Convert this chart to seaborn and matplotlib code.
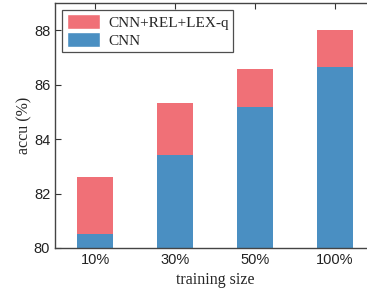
import matplotlib
matplotlib.use('Agg')
import matplotlib.pyplot as plt
import seaborn as sns
import pandas as pd
from matplotlib.patches import Patch

sizes = ['10%', '30%', '50%', '100%']
cnn = [80.52, 83.42, 85.16, 86.63]
cnn_rel_lex = [82.62, 85.31, 86.56, 88.01]

red = '#F07077'
blue = '#4A8FC2'

sns.set_style('ticks')
plt.rcParams['font.family'] = ['Liberation Sans', 'DejaVu Sans']

df = pd.DataFrame({'size': sizes, 'cnn': cnn, 'full': cnn_rel_lex})

fig = plt.figure(figsize=(3.67, 2.89), dpi=100)
ax = fig.add_axes([0.150, 0.142, 0.872, 0.848])

sns.barplot(data=df, x='size', y='full', color=red, width=0.46, ax=ax,
            saturation=1, edgecolor='none')
sns.barplot(data=df, x='size', y='cnn', color=blue, width=0.46, ax=ax,
            saturation=1, edgecolor='none')

ax.set_ylim(80, 89)
ax.set_xlim(-0.5, 3.5)
ax.set_yticks([80, 82, 84, 86, 88])
ax.tick_params(direction='in', labelsize=10.5, color='#333333', length=4,
               top=True, right=False, labelcolor='#222222')
ax.spines['right'].set_visible(False)
for s in ax.spines.values():
    s.set_color('#444444')
    s.set_linewidth(1.0)

ax.set_xlabel('training size', family='Liberation Serif', fontsize=11.5, labelpad=4)
ax.set_ylabel('accu (%)', family='Liberation Serif', fontsize=11.5, labelpad=1)

handles = [Patch(facecolor=red, label='CNN+REL+LEX-q'),
           Patch(facecolor=blue, label='CNN')]
leg = ax.legend(handles=handles, loc='upper left', fancybox=False,
                prop={'family': 'Liberation Serif', 'size': 11},
                handlelength=2.2, handleheight=1.1, borderpad=0.3,
                labelspacing=0.15, handletextpad=0.5,
                bbox_to_anchor=(0.022, 0.972), borderaxespad=0)
leg.get_frame().set_edgecolor('#222222')
leg.get_frame().set_linewidth(0.9)

fig.savefig('out.png', dpi=100)
